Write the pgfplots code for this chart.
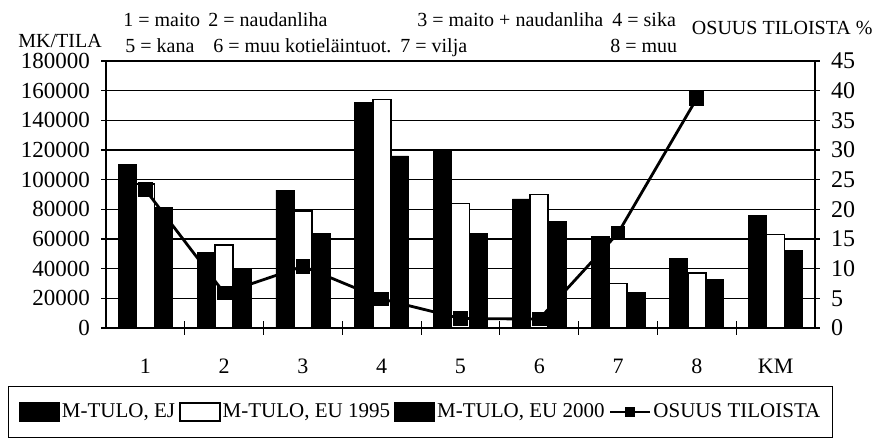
\documentclass[border=0pt]{standalone}
\usepackage{fontspec}
\setmainfont{Liberation Serif}
\usepackage{pgfplots}
\pgfplotsset{compat=1.18}

\pgfplotstableread{
x ej eu95 eu00
0 110000 97000 81000
1 51000 56000 40000
2 93000 79000 64000
3 152000 154000 116000
4 120000 84000 64000
5 87000 90000 72000
6 62000 30000 24000
7 47000 37000 33000
8 76000 63000 52000
}\tulo

\pgfplotstableread{
x osuus
0 23.3
1 5.9
2 10.4
3 4.9
4 1.6
5 1.5
6 16.0
7 38.7
}\osuus

\begin{document}
\begin{tikzpicture}[font=\fontsize{10}{12}\selectfont]
\path (-53pt,-57pt) rectangle (385pt,164pt);
\pgfplotsset{
  base/.style={
    width=354.5pt, height=133.5pt, scale only axis,
    xmin=-0.5, xmax=8.5,
    /pgf/number format/assume math mode=true,
    tick style={black, line width=0.6pt},
    axis line style={black, line width=0.6pt},
  },
  blegend/.style={legend image code/.code={
      \draw[##1] (0pt,-4.5pt) rectangle (20pt,4.5pt);}},
  llegend/.style={legend image code/.code={
      \draw[##1, mark size=2pt, mark repeat=2, mark phase=2]
        plot coordinates {(0pt,0pt) (10pt,0pt) (20pt,0pt)};}},
}
\begin{axis}[
  base,
  ymin=0, ymax=180000,
  ytick={0,20000,...,180000},
  scaled y ticks=false,
  yticklabel style={/pgf/number format/.cd, fixed, 1000 sep={},
    /tikz/.cd, font=\fontsize{11.5}{13}\selectfont, xshift=-2pt},
  ymajorgrids, grid style={black, line width=0.6pt},
  ytick pos=left, tick align=center, major tick length=5pt,
  xtick pos=bottom,
  xtick={0,...,8}, xticklabels={1,2,3,4,5,6,7,8,KM},
  major x tick style={draw=none},
  xticklabel style={yshift=-7pt, font=\fontsize{11}{13}\selectfont},
  extra x ticks={0.5,1.5,...,7.5}, extra x tick labels={},
  extra x tick style={tick align=center, major tick length=7pt,
    major x tick style={draw=black, line width=0.6pt}, xmajorgrids=false},
  ybar=0pt, bar width=9pt,
  clip=false,
]
\addplot[fill=black, draw=black] table[x=x, y=ej] {\tulo};
\addplot[fill=white, draw=black, line width=0.8pt] table[x=x, y=eu95] {\tulo};
\addplot[fill=black, draw=black] table[x=x, y=eu00] {\tulo};

\node[anchor=base west, inner sep=0pt] at ([xshift=8.5pt,yshift=17pt]rel axis cs:0,1) {1 = maito};
\node[anchor=base west, inner sep=0pt] at ([xshift=51pt,yshift=17pt]rel axis cs:0,1) {2 = naudanliha};
\node[anchor=base west, inner sep=0pt] at ([xshift=155.5pt,yshift=17pt]rel axis cs:0,1) {3 = maito + naudanliha};
\node[anchor=base west, inner sep=0pt] at ([xshift=253pt,yshift=17pt]rel axis cs:0,1) {4 = sika};
\node[anchor=base west, inner sep=0pt] at ([xshift=9.5pt,yshift=4pt]rel axis cs:0,1) {5 = kana};
\node[anchor=base west, inner sep=0pt] at ([xshift=53.5pt,yshift=4pt]rel axis cs:0,1) {6 = muu kotieläintuot.};
\node[anchor=base west, inner sep=0pt] at ([xshift=147pt,yshift=4pt]rel axis cs:0,1) {7 = vilja};
\node[anchor=base west, inner sep=0pt] at ([xshift=252pt,yshift=4pt]rel axis cs:0,1) {8 = muu};
\node[anchor=base west, inner sep=0pt] at ([xshift=-44pt,yshift=6.5pt]rel axis cs:0,1) {MK/TILA};
\end{axis}

\begin{axis}[
  base,
  ymin=0, ymax=45,
  ytick={0,5,...,45},
  yticklabel style={font=\fontsize{12}{14}\selectfont, xshift=2pt},
  axis y line*=right, axis x line=none,
  tick align=center, major tick length=5pt,
  clip=false,
  legend style={at={(0.4436,-0.2172)}, anchor=north,
    legend columns=4, draw=black, line width=0.6pt,
    inner xsep=5pt, inner ysep=6.5pt,
    font=\fontsize{10.5}{12}\selectfont,
    nodes={inner xsep=1pt},
    /tikz/every even column/.append style={column sep=1pt},
    /tikz/every odd column/.append style={column sep=0pt}},
  legend cell align=left,
]
\addlegendimage{fill=black, draw=black, blegend}
\addlegendentry{M-TULO, EJ}
\addlegendimage{fill=white, draw=black, line width=0.8pt, blegend}
\addlegendentry{M-TULO, EU 1995}
\addlegendimage{fill=black, draw=black, blegend}
\addlegendentry{M-TULO, EU 2000}
\addplot[black, line width=1.4pt, mark=square*, mark size=3pt,
  mark options={solid}, llegend] table[x=x, y=osuus] {\osuus};
\addlegendentry{OSUUS TILOISTA}
\node[anchor=base east, inner sep=0pt] at ([xshift=29pt,yshift=13pt]rel axis cs:1,1) {OSUUS TILOISTA \%};
\end{axis}
\end{tikzpicture}
\end{document}
